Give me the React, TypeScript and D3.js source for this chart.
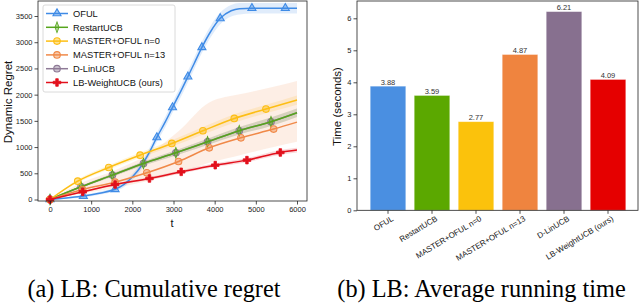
import React, { useEffect, useRef } from 'react';
import {
  select,
  scaleLinear,
  scaleBand,
  line,
  area,
  curveMonotoneX,
  axisLeft,
  axisBottom,
  symbol,
  symbolTriangle,
  symbolDiamond,
  symbolCircle,
  symbolCross,
} from 'd3';

// ---- (a) cumulative regret ----
const ofulT = [0, 400, 810, 1200, 1580, 1800, 2000, 2200, 2400, 2595, 2800, 2976, 3200, 3349, 3500, 3690, 3900, 4135, 4400, 4600, 4905, 5300, 5716, 6000];
const ofulV = [0, 30, 65, 120, 195, 290, 430, 620, 880, 1185, 1480, 1756, 2100, 2342, 2590, 2902, 3200, 3455, 3600, 3640, 3650, 3650, 3650, 3650];
const ofulSpread = [0, 15, 25, 30, 40, 50, 60, 70, 80, 90, 100, 100, 110, 110, 110, 110, 110, 110, 110, 110, 100, 100, 100, 100];
const ofulMarks = [0, 2, 4, 9, 11, 13, 15, 17, 20, 22];

const restartT = [0, 754, 1516, 2270, 3057, 3827, 4597, 5368, 6000];
const restartV = [0, 242, 465, 687, 891, 1101, 1311, 1483, 1655];
const restartSpread = [0, 20, 30, 40, 50, 60, 70, 80, 80];

const master0T = [0, 673, 1427, 2189, 2959, 3714, 4476, 5246, 6000];
const master0V = [0, 350, 611, 846, 1069, 1311, 1546, 1725, 1896];
const master0Spread = [0, 30, 40, 50, 60, 70, 80, 80, 90];

const master13T = [0, 790, 1581, 2351, 3122, 3868, 4638, 5432, 6000];
const master13V = [0, 190, 330, 509, 725, 986, 1177, 1343, 1476];
const master13Lo = [0, 120, 220, 350, 500, 700, 850, 1000, 1100];
const master13Hi = [0, 330, 560, 850, 1300, 1850, 2010, 2150, 2260];

const dlinT = [0, 754, 1516, 2270, 3057, 3827, 4597, 5368, 6000];
const dlinV = [0, 242, 465, 687, 891, 1101, 1311, 1483, 1655];
const dlinSpread = [0, 20, 30, 40, 50, 60, 70, 80, 80];

const lbT = [0, 795, 1581, 2416, 3187, 4014, 4784, 5595, 6000];
const lbV = [0, 146, 286, 401, 528, 655, 751, 897, 942];
const lbSpread = [0, 15, 20, 25, 30, 35, 40, 45, 45];

const xTicks = [0, 1000, 2000, 3000, 4000, 5000, 6000];
const yTicks = [0, 500, 1000, 1500, 2000, 2500, 3000, 3500];

// ---- (b) running time ----
const algos = ['OFUL', 'RestartUCB', 'MASTER+OFUL n=0', 'MASTER+OFUL n=13', 'D-LinUCB', 'LB-WeightUCB (ours)'];
const times = [3.88, 3.59, 2.77, 4.87, 6.21, 4.09];
const timeTicks = [0, 1, 2, 3, 4, 5, 6];
const barColors = ['#4A8FE1', '#5BA800', '#FBC20C', '#EF843F', '#87708F', '#E50000'];

const seriesList = [
  { name: 'OFUL', color: '#3F8BE6', t: ofulT, v: ofulV, spread: ofulSpread, marks: ofulMarks, shape: 'tri' },
  { name: 'RestartUCB', color: '#56A51C', t: restartT, v: restartV, spread: restartSpread, shape: 'diamond' },
  { name: 'MASTER+OFUL n=0', color: '#FDBE14', t: master0T, v: master0V, spread: master0Spread, shape: 'circle' },
  { name: 'MASTER+OFUL n=13', color: '#F08948', t: master13T, v: master13V, lo: master13Lo, hi: master13Hi, shape: 'circle' },
  { name: 'D-LinUCB', color: '#8E7A96', t: dlinT, v: dlinV, spread: dlinSpread, shape: 'circle' },
  { name: 'LB-WeightUCB (ours)', color: '#E2101C', t: lbT, v: lbV, spread: lbSpread, shape: 'plus' },
];
const drawOrder = [0, 4, 1, 2, 3, 5];

const markerPath = (shape: string) => {
  if (shape === 'tri') return symbol(symbolTriangle, 28)();
  if (shape === 'diamond') return symbol(symbolDiamond, 34)();
  if (shape === 'plus') return symbol(symbolCross, 32)();
  return symbol(symbolCircle, 34)();
};

const FONT = '"Liberation Sans", Arial, sans-serif';
const SERIF = '"Liberation Serif", "Times New Roman", serif';

const App = () => {
  const leftRef = useRef(null);
  const rightRef = useRef(null);

  const x = scaleLinear().domain([0, 6000]).range([50, 297]);
  const y = scaleLinear().domain([0, 3500]).range([199.5, 16]);

  const xb = scaleBand().domain(algos).range([366, 630]).paddingInner(0.19).paddingOuter(0.095);
  const yb = scaleLinear().domain([0, 6]).range([210.3, 18.3]);

  useEffect(() => {
    const g = select(leftRef.current);
    g.select('.y-axis')
      // @ts-ignore
      .call(axisLeft(y).tickValues(yTicks).tickSize(3.5).tickPadding(2).tickFormat((d) => String(d)))
      .call((s: any) => s.select('.domain').remove());
    g.select('.x-axis')
      // @ts-ignore
      .call(axisBottom(x).tickValues(xTicks).tickSize(3.5).tickPadding(2).tickFormat((d) => String(d)))
      .call((s: any) => s.select('.domain').remove());
    g.selectAll('.tick text').attr('font-size', 7.5).attr('font-family', FONT).attr('fill', '#222');
    g.selectAll('.tick line').attr('stroke', '#222').attr('stroke-width', 0.8);

    const r = select(rightRef.current);
    r.select('.y-axis')
      // @ts-ignore
      .call(axisLeft(yb).tickValues(timeTicks).tickSize(3.5).tickPadding(2).tickFormat((d) => String(d)))
      .call((s: any) => s.select('.domain').remove());
    r.select('.x-axis')
      // @ts-ignore
      .call(axisBottom(xb).tickSize(3.5).tickFormat(() => ''))
      .call((s: any) => s.select('.domain').remove());
    r.selectAll('.tick text').attr('font-size', 7.5).attr('font-family', FONT).attr('fill', '#222');
    r.selectAll('.tick line').attr('stroke', '#222').attr('stroke-width', 0.8);
  }, []);

  const band = (s: any) => {
    const pts = s.t.map((t: number, i: number) => ({
      t,
      lo: s.lo ? s.lo[i] : s.v[i] - s.spread[i],
      hi: s.hi ? s.hi[i] : s.v[i] + s.spread[i],
    }));
    return area<any>()
      .x((d) => x(d.t))
      .y0((d) => y(d.lo))
      .y1((d) => y(d.hi))
      .curve(curveMonotoneX)(pts);
  };

  const path = (s: any) =>
    line<number>()
      .x((d, i) => x(s.t[i]))
      .y((d) => y(d))
      .curve(curveMonotoneX)(s.v);

  const markIdx = (s: any) => s.marks || s.t.slice(0, -1).map((_: number, i: number) => i);

  const marker = (shape: string, color: string, cx: number, cy: number, key: any) => (
    <path
      key={key}
      d={markerPath(shape) as string}
      transform={`translate(${cx},${cy})${shape === 'diamond' ? ' scale(0.65,1)' : ''}`}
      fill={color}
      fillOpacity={shape === 'plus' ? 1 : 0.45}
      stroke={color}
      strokeWidth={shape === 'plus' ? 0.8 : 1.1}
    />
  );

  return (
    <svg width={640} height={305} style={{ position: 'absolute', left: 0, top: 0, background: '#fff' }}>
      {/* ---------- left: regret ---------- */}
      <g ref={leftRef}>
        {seriesList.map((s, i) => (
          <path key={'b' + i} d={band(s) as string} fill={s.color} fillOpacity={s.lo ? 0.14 : 0.16} stroke="none" />
        ))}
        {drawOrder.map((k) => {
          const s = seriesList[k];
          return (
            <g key={'s' + k}>
              <path d={path(s) as string} fill="none" stroke={s.color} strokeWidth={1.5} />
              {markIdx(s).map((i: number) => marker(s.shape, s.color, x(s.t[i]), y(s.v[i]), i))}
            </g>
          );
        })}
        <rect x={38} y={1} width={269} height={200} fill="none" stroke="#222" strokeWidth={0.8} />
        <g className="y-axis" transform="translate(38,0)" />
        <g className="x-axis" transform="translate(0,201)" />
        <text x={172} y={227} fontSize={11} fontFamily={FONT} textAnchor="middle" fill="#111">t</text>
        <text transform="translate(12,102) rotate(-90)" fontSize={11.5} fontFamily={FONT} textAnchor="middle" fill="#111">
          Dynamic Regret
        </text>
        {/* legend */}
        <rect x={43} y={5} width={132} height={87} rx={2} fill="#fff" fillOpacity={0.85} stroke="#d0d0d0" strokeWidth={0.8} />
        {seriesList.map((s, i) => {
          const ly = 13.5 + i * 13.8;
          return (
            <g key={'l' + i}>
              <line x1={46} x2={68} y1={ly} y2={ly} stroke={s.color} strokeWidth={1.5} />
              {marker(s.shape, s.color, 57, ly, 'm')}
              <text x={73} y={ly} dy="0.35em" fontSize={9.3} fontFamily={FONT} fill="#111">
                {s.name}
              </text>
            </g>
          );
        })}
        <text x={154} y={297} fontSize={24.3} fontFamily={SERIF} textAnchor="middle" fill="#000">
          (a) LB: Cumulative regret
        </text>
      </g>

      {/* ---------- right: running time ---------- */}
      <g ref={rightRef}>
        {algos.map((a, i) => (
          <g key={a}>
            <rect
              x={xb(a)}
              y={yb(times[i])}
              width={xb.bandwidth()}
              height={yb(0) - yb(times[i])}
              fill={barColors[i]}
              stroke="#fff"
              strokeOpacity={0.5}
              strokeWidth={0.8}
            />
            <text
              x={(xb(a) as number) + xb.bandwidth() / 2}
              y={yb(times[i]) - 1.5}
              fontSize={7.5}
              fontFamily={FONT}
              textAnchor="middle"
              fill="#333"
            >
              {times[i].toFixed(2)}
            </text>
            <text
              transform={`translate(${(xb(a) as number) + xb.bandwidth() / 2 + 3},215) rotate(-31)`}
              dy="0.75em"
              fontSize={8}
              fontFamily={FONT}
              textAnchor="end"
              fill="#222"
            >
              {a}
            </text>
          </g>
        ))}
        <rect x={357} y={1} width={281} height={209.3} fill="none" stroke="#222" strokeWidth={0.8} />
        <g className="y-axis" transform="translate(357,0)" />
        <g className="x-axis" transform="translate(0,210.3)" />
        <text transform="translate(341,106.5) rotate(-90)" fontSize={11.5} fontFamily={FONT} textAnchor="middle" fill="#111">
          Time (seconds)
        </text>
        <text x={481.5} y={297} fontSize={24.3} fontFamily={SERIF} textAnchor="middle" fill="#000">
          (b) LB: Average running time
        </text>
      </g>
    </svg>
  );
};

export default App;
